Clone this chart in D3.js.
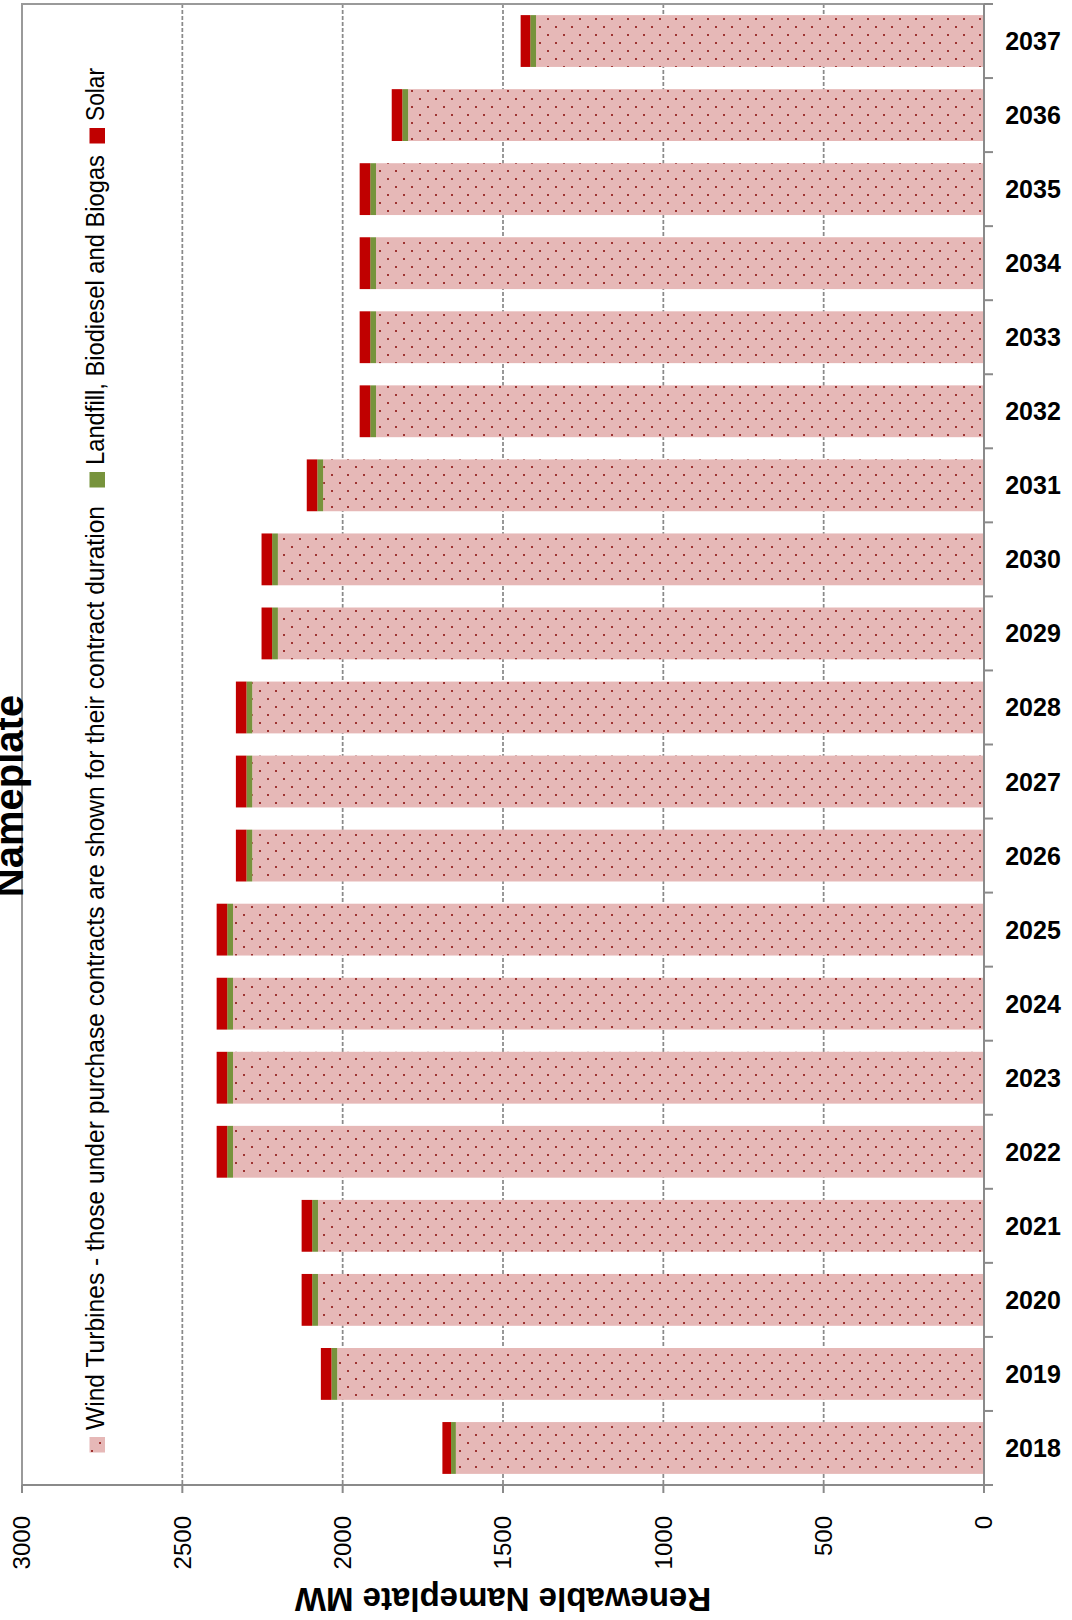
<!DOCTYPE html>
<html>
<head>
<meta charset="utf-8">
<script src="https://cdn.jsdelivr.net/npm/d3@7/dist/d3.min.js"></script>
<style>
  html, body { margin: 0; padding: 0; background: #fff; }
  svg { display: block; }
</style>
</head>
<body>
<svg id="chart" width="1072" height="1620"></svg>
<script>
// Renewable nameplate capacity (MW) by year, stacked by resource type
const years = [2018, 2019, 2020, 2021, 2022, 2023, 2024, 2025, 2026, 2027,
               2028, 2029, 2030, 2031, 2032, 2033, 2034, 2035, 2036, 2037];
const windMW = [1647, 2017, 2077, 2077, 2342, 2342, 2342, 2342, 2282, 2282,
                2282, 2202, 2202, 2061, 1896, 1896, 1896, 1896, 1796, 1397];
const landfillMW = [15, 18, 18, 18, 18, 18, 18, 18, 18, 18,
                    18, 18, 18, 18, 18, 18, 18, 18, 18, 18];
const solarMW = [27, 33, 33, 33, 33, 33, 33, 33, 33, 33,
                 33, 33, 33, 33, 33, 33, 33, 33, 33, 30];
const valueTicks = [0, 500, 1000, 1500, 2000, 2500, 3000];
const seriesKeys = ["wind", "landfill", "solar"];
const seriesNames = [
  "Wind Turbines - those under purchase contracts are shown for their contract duration",
  "Landfill, Biodiesel and Biogas",
  "Solar"
];
const titleText = "Nameplate";
const axisTitleText = "Renewable Nameplate MW";

const rows = years.map((yr, i) => ({
  year: yr, wind: windMW[i], landfill: landfillMW[i], solar: solarMW[i]
}));

const svg = d3.select("#chart");
const W = 1072, H = 1620;
const plot = { left: 22, right: 984, top: 4, bottom: 1485 };
const axisColor = "#8a8a8a";
const fontText = "'Liberation Sans Narrow', 'Liberation Sans', Arial, sans-serif";
const fontBold = "'Liberation Sans', Arial, sans-serif";

svg.append("rect").attr("width", W).attr("height", H).attr("fill", "#fff");

// Dotted fill used by the wind series
const defs = svg.append("defs");
const pat = defs.append("pattern")
  .attr("id", "windDots").attr("patternUnits", "userSpaceOnUse")
  .attr("width", 16).attr("height", 16).attr("x", 3).attr("y", 2);
pat.append("rect").attr("width", 16).attr("height", 16).attr("fill", "#e6b8b7");
pat.append("rect").attr("x", 0).attr("y", 0).attr("width", 2).attr("height", 2).attr("fill", "#9e3432");
pat.append("rect").attr("x", 8).attr("y", 8).attr("width", 2).attr("height", 2).attr("fill", "#9e3432");

const colors = { wind: "url(#windDots)", landfill: "#77933c", solar: "#c00000" };

// Value runs right-to-left; years run bottom-to-top
const x = d3.scaleLinear().domain([0, 3000]).range([plot.right, plot.left]);
const y = d3.scaleBand()
  .domain(years.slice().reverse())
  .range([plot.top, plot.bottom])
  .paddingInner(0.3).paddingOuter(0.15);

// Dashed gridlines
svg.append("g").selectAll("line")
  .data(valueTicks.filter(v => v > 0 && v < 3000))
  .join("line")
  .attr("x1", d => x(d)).attr("x2", d => x(d))
  .attr("y1", plot.top).attr("y2", plot.bottom)
  .attr("stroke", axisColor).attr("stroke-width", 1.75)
  .attr("stroke-dasharray", "4,2");

// Plot frame
svg.append("rect")
  .attr("x", plot.left).attr("y", plot.top)
  .attr("width", plot.right - plot.left).attr("height", plot.bottom - plot.top)
  .attr("fill", "none").attr("stroke", "#9a9a9a").attr("stroke-width", 2);

// Stacked bars
const stacked = d3.stack().keys(seriesKeys)(rows);
svg.append("g").selectAll("g")
  .data(stacked)
  .join("g")
  .attr("fill", d => colors[d.key])
  .selectAll("rect")
  .data(d => d)
  .join("rect")
  .attr("y", d => y(d.data.year))
  .attr("height", y.bandwidth())
  .attr("x", d => x(d[1]))
  .attr("width", d => x(d[0]) - x(d[1]));

// Category axis on the right
const catAxis = svg.append("g");
catAxis.append("line")
  .attr("x1", plot.right).attr("x2", plot.right)
  .attr("y1", plot.top).attr("y2", plot.bottom + 8)
  .attr("stroke", axisColor).attr("stroke-width", 2);
catAxis.selectAll("line.tick")
  .data(d3.range(years.length + 1))
  .join("line").attr("class", "tick")
  .attr("x1", plot.right).attr("x2", plot.right + 9)
  .attr("y1", i => plot.top + i * y.step())
  .attr("y2", i => plot.top + i * y.step())
  .attr("stroke", axisColor).attr("stroke-width", 2);
catAxis.selectAll("text")
  .data(years)
  .join("text")
  .attr("x", 1033)
  .attr("y", d => y(d) + y.bandwidth() / 2)
  .attr("dy", "0.36em")
  .attr("text-anchor", "middle")
  .attr("font-family", fontBold).attr("font-weight", "bold")
  .attr("font-size", 25).attr("fill", "#000")
  .text(d => d);

// Value axis along the bottom
const valAxis = svg.append("g");
valAxis.append("line")
  .attr("x1", plot.left).attr("x2", plot.right + 9)
  .attr("y1", plot.bottom).attr("y2", plot.bottom)
  .attr("stroke", axisColor).attr("stroke-width", 2);
valAxis.selectAll("line.tick")
  .data(valueTicks)
  .join("line").attr("class", "tick")
  .attr("x1", d => x(d)).attr("x2", d => x(d))
  .attr("y1", plot.bottom).attr("y2", plot.bottom + 8)
  .attr("stroke", axisColor).attr("stroke-width", 2);
valAxis.selectAll("text")
  .data(valueTicks)
  .join("text")
  .attr("transform", d => `translate(${x(d)},${plot.bottom + 31}) rotate(-90)`)
  .attr("dy", "0.35em")
  .attr("text-anchor", "end")
  .attr("font-family", fontBold).attr("font-size", 24).attr("fill", "#000")
  .text(d => d);

// Value axis title, upside down under the ticks
svg.append("text")
  .attr("transform", `translate(${(plot.left + plot.right) / 2},1588) rotate(180)`)
  .attr("text-anchor", "middle")
  .attr("font-family", fontBold).attr("font-weight", "bold")
  .attr("font-size", 33).attr("fill", "#000")
  .text(axisTitleText);

// Chart title, running up the left edge
svg.append("text")
  .attr("transform", "translate(23,796) rotate(-90)")
  .attr("text-anchor", "middle")
  .attr("font-family", fontBold).attr("font-weight", "bold")
  .attr("font-size", 40).attr("fill", "#000")
  .text(titleText);

// Legend, reading bottom-to-top along the left side
const legendLayout = [
  { markerY: 1437, textStart: 1430, textLen: 924 },
  { markerY: 472, textStart: 465, textLen: 310 },
  { markerY: 128, textStart: 121, textLen: 53 }
];
const legend = svg.append("g");
seriesKeys.forEach((key, i) => {
  const L = legendLayout[i];
  legend.append("rect")
    .attr("x", 89.5).attr("y", L.markerY)
    .attr("width", 15.5).attr("height", 15.5)
    .attr("fill", colors[key]);
  legend.append("text")
    .attr("transform", `translate(104,${L.textStart}) rotate(-90)`)
    .attr("text-anchor", "start")
    .attr("font-family", fontText).attr("font-size", 25).attr("fill", "#000")
    .attr("textLength", L.textLen).attr("lengthAdjust", "spacingAndGlyphs")
    .text(seriesNames[i]);
});
</script>
</body>
</html>
